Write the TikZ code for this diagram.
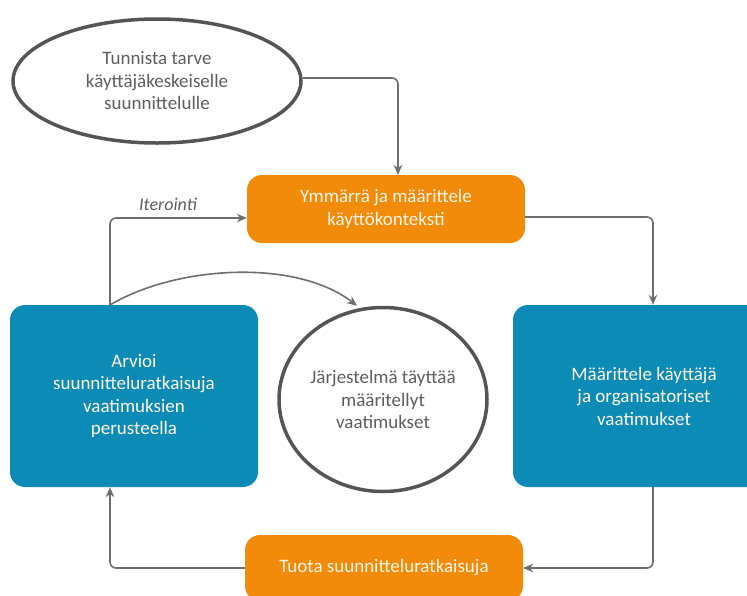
\documentclass[tikz,border=0pt]{standalone}
\usepackage{fontspec}
\setmainfont{Carlito}
\usetikzlibrary{arrows.meta,shapes.geometric}
\definecolor{orng}{HTML}{F28A0A}
\definecolor{blu}{HTML}{0C8BB6}
\definecolor{edge}{HTML}{555555}
\definecolor{conn}{HTML}{6E6E6E}
\definecolor{gtext}{HTML}{5E5E5E}
\definecolor{wtext}{HTML}{FFF6E8}
\tikzset{
  boxbase/.style={rounded corners=15pt, inner sep=0pt, align=center,
    font=\fontsize{19}{22.5}\selectfont, text=wtext},
  obox/.style={boxbase, fill=orng},
  bbox/.style={boxbase, fill=blu},
  oval/.style={ellipse, draw=edge, line width=3.5pt, fill=white, inner sep=0pt,
    align=center, font=\fontsize{19}{22.5}\selectfont, text=gtext},
  conn/.style={draw=conn, line width=1.6pt, rounded corners=6pt,
    -{Stealth[length=10pt,width=8.5pt]}},
}
\begin{document}
\begin{tikzpicture}[x=1pt,y=-1pt]
\useasboundingbox (0,0) rectangle (747,595);
\node[oval, minimum width=288pt, minimum height=124pt] (start) at (157,81)
  {Tunnista tarve\\käyttäjäkeskeiselle\\suunnittelulle};
\node[obox, minimum width=278pt, minimum height=68pt] (ctx) at (386,209)
  {Ymmärrä ja määrittele\\käyttökonteksti};
\node[bbox, minimum width=248pt, minimum height=182pt] (eval) at (134,396)
  {Arvioi\\suunnitteluratkaisuja\\vaatimuksien\\perusteella};
\node[bbox, minimum width=262pt, minimum height=182pt] (req) at (644,396)
  {Määrittele käyttäjä\\ja organisatoriset\\vaatimukset};
\node[obox, minimum width=278pt, minimum height=66pt] (prod) at (384,568)
  {Tuota suunnitteluratkaisuja};
\node[oval, minimum width=208pt, minimum height=184pt] (done) at (383,399.5)
  {Järjestelmä täyttää\\määritellyt\\vaatimukset};
\coordinate (a1) at (398,78);
\coordinate (a2) at (653,217);
\coordinate (a3) at (653,568);
\coordinate (a4) at (110,568);
\coordinate (a5) at (110,305);
\coordinate (a6) at (110,218);
\draw[conn] (start.east |- a1) -| (ctx.north -| a1);
\draw[conn] (ctx.east |- a2) -| (req.north -| a2);
\draw[conn] (req.south -| a3) |- (prod.east |- a3);
\draw[conn] (prod.west |- a4) -| (eval.south -| a4);
\draw[conn] (a5) |- (ctx.west |- a6);
\draw[conn, rounded corners=0pt] (a5) .. controls (175,266) and (295,258) .. (done.north -| 357,0);
\node[font=\fontsize{18}{20}\itshape, text=gtext] (iter) at (168,204) {Iterointi};
\end{tikzpicture}
\end{document}
